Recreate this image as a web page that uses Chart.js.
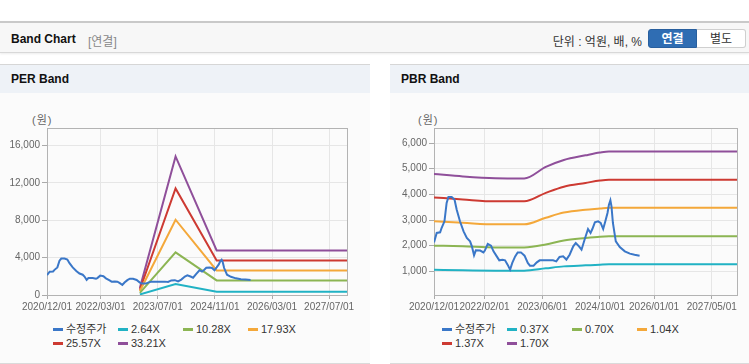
<!DOCTYPE html>
<html><head><meta charset="utf-8">
<script src="https://cdn.jsdelivr.net/npm/chart.js@4.4.0/dist/chart.umd.min.js"></script>
<style>
body{margin:0;width:749px;height:364px;background:#fff;font-family:"Liberation Sans",Arial,"Noto Sans CJK KR",sans-serif;overflow:hidden;position:relative}
.hdr{position:absolute;left:0;top:21px;width:749px;height:29px;background:#f7f7f7;border-top:2px solid #c9c9c9;border-bottom:1px solid #d8d8d8;box-shadow:0 1px 2px rgba(0,0,0,0.08)}
.abs{position:absolute;white-space:nowrap}
.ttl{font-weight:bold;font-size:12px;color:#111}
.btn{position:absolute;top:29px;height:19px;width:49px;font-size:12px;line-height:19px;text-align:center;box-sizing:border-box}
.panel{position:absolute;top:64px;height:298px;background:#fbfbfb;border-top:1px solid #d6d6d6;border-bottom:1px solid #dadada}
.pt{position:absolute;left:0;top:0;right:0;height:28px;background:#eef2f7}
canvas{position:absolute}
.lg{position:absolute;font-size:11px;color:#333;height:13px;line-height:13px;width:64px;white-space:nowrap}
.lg i{position:absolute;left:0;top:5px;width:10px;height:3px}
.lg span{position:absolute;left:13px;top:0;white-space:nowrap}
</style></head>
<body>
<div class="hdr"></div>
<div class="abs ttl" style="left:11px;top:32px">Band Chart</div>
<div class="abs" style="left:88px;top:32px;font-size:12px;color:#888">[연결]</div>
<div class="abs" style="right:107px;top:32px;font-size:12px;color:#333">단위 : 억원, 배, %</div>
<div class="btn" style="left:648px;background:#2f6db3;color:#fff;font-weight:bold;border-radius:3px 0 0 3px;border:1px solid #285f9e">연결</div>
<div class="btn" style="left:697px;background:#fff;color:#333;border:1px solid #cfcfcf;border-left:none;border-radius:0 3px 3px 0">별도</div>

<div class="panel" style="left:0;width:370px"><div class="pt"></div></div>
<div class="abs ttl" style="left:11px;top:72px">PER Band</div>
<div class="panel" style="left:390px;width:359px"><div class="pt"></div></div>
<div class="abs ttl" style="left:401px;top:72px">PBR Band</div>

<div class="abs" style="left:32px;top:111px;font-size:11px;color:#666;letter-spacing:1px">(원)</div>
<div class="abs" style="left:418px;top:111px;font-size:11px;color:#666;letter-spacing:1px">(원)</div>

<canvas id="per" width="370" height="225" style="left:0;top:93px"></canvas>
<canvas id="pbr" width="359" height="225" style="left:390px;top:93px"></canvas>
<div id="perLegend"></div>
<div id="pbrLegend"></div>

<script>
// ---- data (x = months since 2020/12/01) ----
const priceMonths = [0,0.75,1.7,2.1,2.9,3.5,4.0,4.9,5.7,6.3,7.2,8.2,9.1,10.0,10.5,11.1,11.6,12.8,13.7,14.1,14.9,15.8,16.5,17.4,18.1,19.0,19.7,20.4,21.1,21.7,22.5,23.2,24.1,25.1,26.0,26.6,27.6,28.5,29.3,31.2,33.0,33.9,34.8,35.8,36.7,37.6,38.6,39.3,40.2,40.9,41.8,42.7,43.4,43.9,44.6,45.5,46.2,46.9,47.5,48.1,48.5,48.9,49.2,49.6,50.4,51.5,52.9,54.3,55.6,57.0];
const priceValues = [2130,2496,2520,2690,2950,3664,3900,3900,3793,3403,2950,2560,2300,2170,1975,1625,1820,1810,1740,1810,2070,2000,1780,1585,1430,1450,1430,1262,1067,1328,1585,1740,1740,1612,1328,1223,1223,1351,1430,1430,1430,1390,1560,1585,1460,1650,1975,2106,1975,1845,2262,2650,2496,2650,2910,2950,2885,2650,2950,3275,3598,3766,3532,2885,2170,1950,1780,1690,1650,1612];

const perBandMonths = [26,36,47.5,84];
const perBand264  = [60,1176,353,353];
const perBand1028 = [230,4560,1560,1560];
const perBand1793 = [395,8050,2630,2630];
const perBand2557 = [565,11400,3700,3700];
const perBand3321 = [740,14820,4770,4770];

const pbrBandMonths = [0,8,17,25,31,36,42,46,48.5,84];
const pbrBand037 = [1067,1042,1028,1028,1120,1195,1234,1260,1273,1273];
const pbrBand070 = [2002,1978,1935,1935,2045,2205,2300,2350,2364,2364];
const pbrBand104 = [2948,2890,2831,2831,3090,3290,3405,3450,3481,3481];
const pbrBand137 = [3882,3800,3727,3727,4060,4300,4445,4540,4572,4572];
const pbrBand170 = [4794,4700,4630,4620,5070,5340,5520,5630,5674,5674];

const perLabels = ['수정주가','2.64X','10.28X','17.93X','25.57X','33.21X'];
const pbrLabels = ['수정주가','0.37X','0.70X','1.04X','1.37X','1.70X'];

const xTickMonthsPER = [0,15,31,47,63,79];
const xTickLabelsPER = ['2020/12/01','2022/03/01','2023/07/01','2024/11/01','2026/03/01','2027/07/01'];
const xTickMonthsPBR = [0,14,30,46,61,77];
const xTickLabelsPBR = ['2020/12/01','2022/02/01','2023/06/01','2024/10/01','2026/01/01','2027/05/01'];
const perYTicks = [0,4000,8000,12000,16000];
const pbrYTicks = [1000,2000,3000,4000,5000,6000];

// ---- styles ----
const colors = ['#3a77c8','#21b2c4','#8cb553','#f4a83a','#cd3a32','#8f4f9a'];
const tickFont = {family:'"Liberation Sans",Arial,sans-serif', size:10};

const frame = {
  id:'frame',
  beforeDatasetsDraw(chart){
    const a = chart.chartArea, c = chart.ctx;
    c.save(); c.strokeStyle='#b3b3b3'; c.lineWidth=1;
    c.strokeRect(Math.round(a.left)+0.5, Math.round(a.top)+0.5, Math.round(a.right-a.left), Math.round(a.bottom-a.top));
    c.restore();
  }
};

function pts(xs, ys){ return xs.map((x,i)=>({x:x, y:ys[i]})); }

function makeChart(id, labels, series, xT, xL, yMin, yMax, yT, yW, padR, mono){
  return new Chart(document.getElementById(id), {
    type:'line',
    data:{datasets: series.map((s,i)=>({
      label:labels[i], data:pts(s[0],s[1]), borderColor:colors[i], backgroundColor:colors[i],
      borderWidth:2, pointRadius:0, tension:0, fill:false,
      cubicInterpolationMode: (mono && i>0) ? 'monotone' : 'default'
    }))},
    options:{
      responsive:false, animation:false, maintainAspectRatio:false,
      layout:{padding:{top:35,right:padR,left:0,bottom:0}},
      plugins:{legend:{display:false}, tooltip:{enabled:false}},
      scales:{
        x:{type:'linear', min:0, max:84,
          afterBuildTicks:s=>{ s.ticks = xT.map(v=>({value:v})); },
          afterFit:s=>{ s.height = 23; },
          ticks:{autoSkip:false, maxRotation:0, color:'#666', font:tickFont, padding:2, callback:(v,i)=>xL[i]},
          grid:{color:'#e6e6e6', tickColor:'#aaa', tickLength:4}, border:{color:'#aaa'}},
        y:{min:yMin, max:yMax,
          afterBuildTicks:s=>{ s.ticks = yT.map(v=>({value:v})); },
          afterFit:s=>{ s.width = yW; },
          ticks:{color:'#666', font:tickFont, padding:2, callback:v=>v.toLocaleString('en-US')},
          grid:{color:'#e6e6e6', tickColor:'#aaa', tickLength:5}, border:{color:'#aaa'}}
      }
    },
    plugins:[frame]
  });
}

makeChart('per', perLabels, [
  [priceMonths, priceValues],
  [perBandMonths, perBand264],
  [perBandMonths, perBand1028],
  [perBandMonths, perBand1793],
  [perBandMonths, perBand2557],
  [perBandMonths, perBand3321]
], xTickMonthsPER, xTickLabelsPER, 0, 17860, perYTicks, 47, 23, false);

makeChart('pbr', pbrLabels, [
  [priceMonths, priceValues],
  [pbrBandMonths, pbrBand037],
  [pbrBandMonths, pbrBand070],
  [pbrBandMonths, pbrBand104],
  [pbrBandMonths, pbrBand137],
  [pbrBandMonths, pbrBand170]
], xTickMonthsPBR, xTickLabelsPBR, 80, 6585, pbrYTicks, 44, 12, true);

function legend(el, labels, x0){
  const box = document.getElementById(el);
  labels.forEach((l,i)=>{
    const d = document.createElement('div');
    d.className='lg';
    d.style.left = (x0 + (i%4)*65) + 'px';
    d.style.top = (i<4 ? 323 : 337) + 'px';
    d.innerHTML = '<i style="background:'+colors[i]+'"></i><span>'+l+'</span>';
    box.appendChild(d);
  });
}
legend('perLegend', perLabels, 53);
legend('pbrLegend', pbrLabels, 442);
</script>
</body></html>
